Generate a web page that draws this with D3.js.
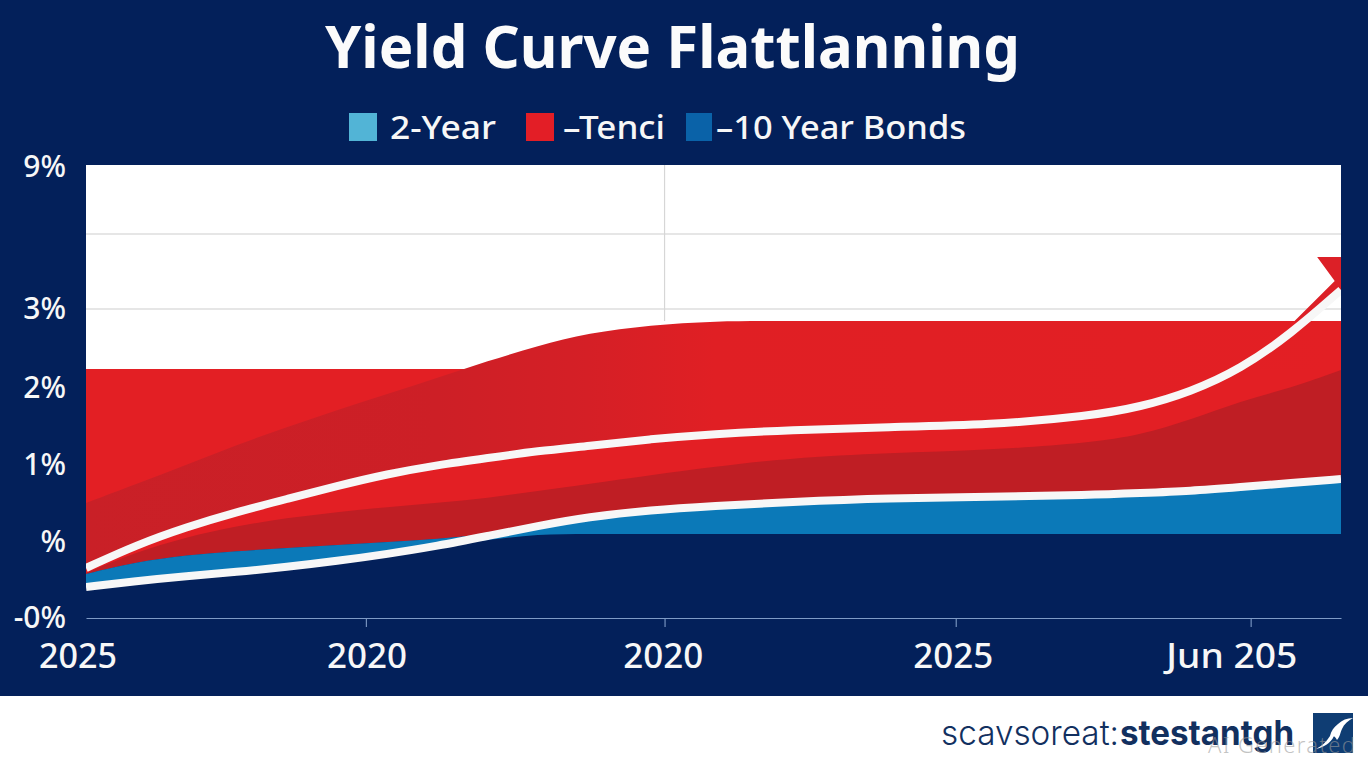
<!DOCTYPE html>
<html><head><meta charset="utf-8">
<script src="https://cdn.jsdelivr.net/npm/d3@7/dist/d3.min.js"></script>
<style>html,body{margin:0;padding:0;background:#fff;overflow:hidden}svg{display:block}text{font-family:"Noto Sans",sans-serif}</style>
</head><body><svg id="c" width="1368" height="768"></svg>
<script>
// Data (t = position along the timeline 0-100, values in basis points)
const title = "Yield Curve Flattlanning";
const timeline = [0,4,8,12,16,20,24,28,32,36,40,45,50,56,64,72,80,84,88,92,96,100];
const whiteUpper = [50,73,91,106,119,132,144,153,160,167,172,179,184,188,191,193,202,211,226,249,284,328];
const whiteLower = [31,37,42,46,51,57,64,72,82,92,101,108,112,116,120,121,123,125,127,131,135,139];
const darkUpperTop = [115,134,153,173,191,208,224,240,257,272,285,293,297,297,297,297,297,297,297,297,297,297];
const darkUpperBase = [50,73,91,106,119,132,144,153,160,167,172,179,184,188,191,193,202,211,226,249,249,249];
const darkLowerTop = [45,66,81,92,100,106,111,115,120,127,134,143,151,160,165,168,175,183,198,217,230,248];
const blueTop = [44,56,63,67,70,73,76,79,84,92,101,108,112,116,120,121,123,125,127,131,135,139];
const blueBottom = [31,37,42,46,51,57,64,72,78,84,84,84,84,84,84,84,84,84,84,84,84,84];
const redShelf = 249;
const arrowT = [98.1,100,100,97.2,96.3,99.5];
const arrowV = [361,361,326,293,297,337];
const yTickLabels = ["9%","3%","2%","1%","%","-0%"];
const yTickValues = [441,299,220,143,66,-10];
const gridValues = [384,309];
const vGridT = 46.1;
const xTickT = [22.3,46.1,69.3,92.8];
const xLabels = ["2025","2020","2020","2025","Jun 205"];
const xLabelT = [-0.64,22.4,46,69.1,91.3];
const xLabelW = [78,80,80,80,131];
const legendNames = ["2-Year","\u2013Tenci","\u201310 Year Bonds"];
const legendColors = ["#52b4d6","#e31e26","#0a62a8"];

const svg = d3.select("#c");
const x = d3.scaleLinear().domain([0,100]).range([86,1341]);
const y = d3.scaleLinear().domain([0,453]).range([618,165]);
const navy = "#03205a";

svg.append("rect").attr("width",1368).attr("height",696).attr("fill",navy);
svg.append("rect").attr("y",696).attr("width",1368).attr("height",72).attr("fill","#fff");

const defs = svg.append("defs");
defs.append("clipPath").attr("id","plot").append("rect")
  .attr("x",x(0)).attr("y",y(453)).attr("width",x(100)-x(0)).attr("height",y(0)-y(453));
const g1 = defs.append("linearGradient").attr("id","dk").attr("gradientUnits","userSpaceOnUse")
  .attr("x1",x(0)).attr("x2",x(100)).attr("y1",0).attr("y2",0);
[[0,"#c92027"],[28,"#cd1f26"],[40,"#d51f26"],[50,"#e01f24"],[100,"#e31f24"]].forEach(d=>
  g1.append("stop").attr("offset",d[0]/100).attr("stop-color",d[1]));

const plot = svg.append("g").attr("clip-path","url(#plot)");
plot.append("rect").attr("x",x(0)).attr("y",y(453)).attr("width",x(100)-x(0)).attr("height",y(redShelf-10)-y(453)).attr("fill","#fff");
plot.selectAll(".gh").data(gridValues).join("line").attr("x1",x(0)).attr("x2",x(100))
  .attr("y1",d=>y(d)).attr("y2",d=>y(d)).attr("stroke","#dedede").attr("stroke-width",1.4);
plot.append("line").attr("x1",x(vGridT)).attr("x2",x(vGridT)).attr("y1",y(453)).attr("y2",y(297))
  .attr("stroke","#d6d6d6").attr("stroke-width",1.2);

const idx = timeline.map((d,i)=>i);
const band = (top,bot)=>d3.area().x(i=>x(timeline[i])).y1(i=>y(top(i))).y0(i=>y(bot(i))).curve(d3.curveBasis)(idx);
const curve = arr=>d3.line().x(i=>x(timeline[i])).y(i=>y(arr[i])).curve(d3.curveBasis)(idx);

plot.append("path").attr("d",band(()=>redShelf,i=>blueTop[i])).attr("fill","#e31f24");
plot.append("path").attr("d",band(i=>darkUpperTop[i],i=>darkUpperBase[i])).attr("fill","url(#dk)");
plot.append("path").attr("d",band(i=>darkLowerTop[i],i=>blueTop[i])).attr("fill","#bf1e24");
plot.append("path").attr("d",band(i=>blueTop[i],i=>blueBottom[i])).attr("fill","#0b79b8");
plot.append("path")
  .attr("d",d3.line().x(i=>x(arrowT[i])).y(i=>y(arrowV[i])).curve(d3.curveLinearClosed)(arrowT.map((d,i)=>i)))
  .attr("fill","#dc2027");
[whiteUpper,whiteLower].forEach(a=>plot.append("path").attr("d",curve(a))
  .attr("fill","none").attr("stroke","#f7f7f7").attr("stroke-width",8));

// axes
const axis = svg.append("g").attr("transform",`translate(0,${y(0)})`)
  .call(d3.axisBottom(x).tickValues(xTickT).tickSize(9).tickSizeOuter(0).tickFormat(""));
axis.selectAll("path,line").attr("stroke","#7f9bc6").attr("stroke-width",1.1);

svg.selectAll(".yl").data(yTickLabels).join("text").attr("x",66).attr("y",(d,i)=>y(yTickValues[i]))
  .attr("text-anchor","end").attr("font-size",30).attr("font-weight",500).attr("fill","#f7f7f7").text(d=>d);
svg.selectAll(".xl").data(xLabels).join("text").attr("x",(d,i)=>x(xLabelT[i])).attr("y",668)
  .attr("text-anchor","middle").attr("font-size",34).attr("font-weight",500).attr("fill","#f7f7f7")
  .attr("textLength",(d,i)=>xLabelW[i]).attr("lengthAdjust","spacingAndGlyphs").text(d=>d);

// title
svg.append("text").attr("x",325).attr("y",68).attr("font-size",60).attr("font-weight",700)
  .attr("fill","#fbfbfb").attr("textLength",695).attr("lengthAdjust","spacingAndGlyphs").text(title);

// legend
const swX=[349,526,686], txtX=[390,563,716], txtW=[106,102,250];
legendNames.forEach((n,i)=>{
  svg.append("rect").attr("x",swX[i]).attr("y",113).attr("width",i==2?26:28).attr("height",28).attr("fill",legendColors[i]);
  svg.append("text").attr("x",txtX[i]).attr("y",139).attr("font-size",33).attr("font-weight",500)
    .attr("fill","#f7f7f7").attr("textLength",txtW[i]).attr("lengthAdjust","spacingAndGlyphs").text(n);
});

// footer
svg.append("text").attr("x",941).attr("y",745).attr("font-size",34).attr("font-weight",300).attr("fill","#12305f")
  .style("font-family","Inter").attr("textLength",178).attr("lengthAdjust","spacingAndGlyphs").text("scavsoreat:");
svg.append("text").attr("x",1120).attr("y",745).attr("font-size",34).attr("font-weight",700).attr("fill","#12305f")
  .style("font-family","Inter").attr("textLength",174).attr("lengthAdjust","spacingAndGlyphs").text("stestantgh");
svg.append("rect").attr("x",1313).attr("y",713).attr("width",40).attr("height",40).attr("fill","#0f3d73");
svg.append("path").attr("d","M1316 749 C1322 746 1326 742 1330 736 C1331 731 1334 727 1338 724 C1342 720 1347 718 1353 718 C1348 721 1344 724 1342 729 C1340 733 1340 737 1337 740 C1335 737 1334 735 1333 738 C1330 743 1324 747 1316 749Z").attr("fill","#fff");
svg.append("text").attr("x",1208).attr("y",753).attr("font-size",22).attr("font-weight",300)
  .attr("fill","#9a9a9a").attr("fill-opacity",.6).attr("textLength",147).text("AI Generated");
</script></body></html>
